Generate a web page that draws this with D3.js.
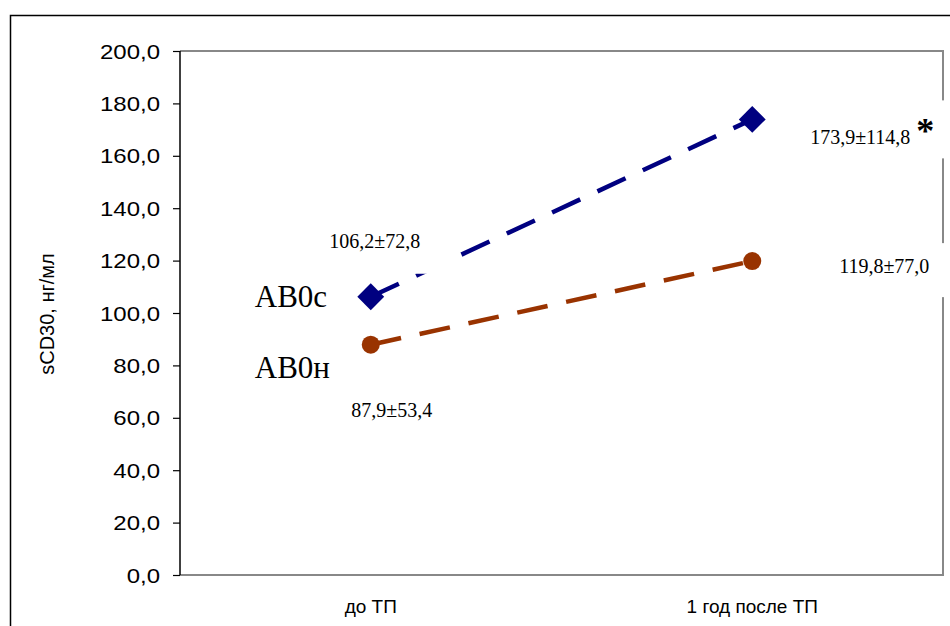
<!DOCTYPE html>
<html>
<head>
<meta charset="utf-8">
<script src="https://cdn.jsdelivr.net/npm/d3@7"></script>
<style>
  body { margin: 0; background: #fff; }
  svg { display: block; }
</style>
</head>
<body>
<svg id="chart" width="950" height="626"></svg>
<script>
var categories = ["до ТП", "1 год после ТП"];
var seriesNames = ["АВ0с", "АВ0н"];
var meanC = [106.2, 173.9];
var sdC = [72.8, 114.8];
var meanN = [87.9, 119.8];
var sdN = [53.4, 77.0];
var yTicks = [0, 20, 40, 60, 80, 100, 120, 140, 160, 180, 200];

var _svg = d3.select("#chart");
var _margin = {top: 51, right: 7, bottom: 51, left: 180};
var _width = 950 - _margin.left - _margin.right;
var _height = 626 - _margin.top - _margin.bottom;

var _x = d3.scaleBand().domain(categories).range([0, _width]);
var _y = d3.scaleLinear().domain([0, 200]).range([_height, 0]);
var fmt = function(v) { return d3.format(".1f")(v).replace(".", ","); };

// outer chart border (runs off the right/bottom edge)
_svg.append("rect")
  .attr("x", 10.5).attr("y", 15.5)
  .attr("width", 960).attr("height", 640)
  .attr("fill", "none").attr("stroke", "#000").attr("stroke-width", 1.5);

var g = _svg.append("g").attr("transform", "translate(" + _margin.left + "," + _margin.top + ")");

// plot area frame
g.append("path")
  .attr("d", "M0,0H" + _width + "V" + _height + "H0")
  .attr("fill", "none").attr("stroke", "#888").attr("stroke-width", 2);

var yAxis = g.append("g")
  .call(d3.axisLeft(_y).tickValues(yTicks).tickSize(7).tickPadding(13).tickFormat(fmt));
yAxis.select(".domain").attr("stroke", "#000").attr("stroke-width", 1.5).attr("d", "M0,0V" + _height);
yAxis.selectAll(".tick line").attr("stroke", "#000").attr("stroke-width", 1.2);
yAxis.selectAll(".tick text")
  .attr("font-family", "Liberation Sans, Arial, sans-serif")
  .attr("font-size", 20).attr("fill", "#000")
  .attr("dy", "0.35em")
  .each(function() {
    var t = d3.select(this);
    var x = +t.attr("x");
    t.attr("x", 0).attr("transform", "translate(" + x + ",0) scale(1.2,1)");
  });

var xAxis = g.append("g").attr("transform", "translate(0," + _height + ")")
  .call(d3.axisBottom(_x).tickSize(0).tickPadding(25));
xAxis.select(".domain").remove();
xAxis.selectAll(".tick text")
  .attr("font-family", "Liberation Sans, Arial, sans-serif")
  .attr("font-size", 19).attr("fill", "#000");

_svg.append("text")
  .attr("transform", "translate(54,314) rotate(-90)")
  .attr("text-anchor", "middle")
  .attr("font-family", "Liberation Sans, Arial, sans-serif")
  .attr("font-size", 20)
  .text("sCD30, нг/мл");

var cx = function(i) { return _x(categories[i]) + _x.bandwidth() / 2; };

var series = [
  {name: seriesNames[0], mean: meanC, sd: sdC, color: "#000080", marker: "diamond"},
  {name: seriesNames[1], mean: meanN, sd: sdN, color: "#993300", marker: "circle"}
];

// label boxes (white, cover lines and frame) and their text offsets
var labelPos = [
  [{dx: 4, dy: -49, box: [-60, -26, 80, 26]}, {dx: 108, dy: 25, box: [-68, -44, 200, 14]}],
  [{dx: 21, dy: 72, box: [-55, -22, 55, 8]}, {dx: 132, dy: 12, box: [-80, -30, 200, 24]}]
];

series.forEach(function(s, si) {
  var line = d3.line().x(function(d, i) { return cx(i); }).y(function(d) { return _y(d); });
  g.append("path")
    .datum(s.mean)
    .attr("d", line)
    .attr("fill", "none")
    .attr("stroke", s.color)
    .attr("stroke-width", 4.5)
    .attr("stroke-dasharray", "31,19");
});

series.forEach(function(s, si) {
  s.mean.forEach(function(m, i) {
    var p = labelPos[si][i];
    var bx = cx(i) + p.dx, by = _y(m) + p.dy;
    g.append("rect")
      .attr("x", bx + p.box[0]).attr("y", by + p.box[1])
      .attr("width", p.box[2] - p.box[0]).attr("height", p.box[3] - p.box[1])
      .attr("fill", "#fff");
    g.append("text")
      .attr("x", bx).attr("y", by)
      .attr("text-anchor", "middle")
      .attr("font-family", "Liberation Serif, Times New Roman, serif")
      .attr("font-size", 20)
      .text(fmt(m) + "±" + fmt(s.sd[i]));
  });
});

// significance mark
g.append("text")
  .attr("x", cx(1) + 164).attr("y", _y(meanC[1]) + 24)
  .attr("font-family", "Liberation Serif, Times New Roman, serif")
  .attr("font-size", 36).attr("font-weight", "bold")
  .text("*");

series.forEach(function(s) {
  s.mean.forEach(function(m, i) {
    if (s.marker == "diamond") {
      g.append("path")
        .attr("transform", "translate(" + cx(i) + "," + _y(m) + ") rotate(45)")
        .attr("d", "M-9.5,-9.5H9.5V9.5H-9.5Z")
        .attr("fill", s.color);
    } else {
      g.append("circle")
        .attr("cx", cx(i)).attr("cy", _y(m)).attr("r", 9)
        .attr("fill", s.color);
    }
  });
});

// series names next to the first points
series.forEach(function(s) {
  g.append("text")
    .attr("x", cx(0) - 116).attr("y", _y(s.mean[0]) + (s.marker == "diamond" ? 10 : 33))
    .attr("font-family", "Liberation Serif, Times New Roman, serif")
    .attr("font-size", 31)
    .text(s.name);
});
</script>
</body>
</html>
